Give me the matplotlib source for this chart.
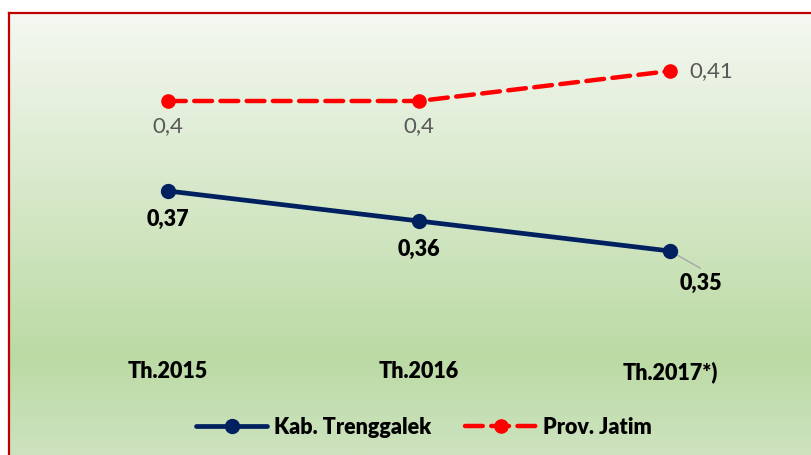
import matplotlib
matplotlib.use("Agg")
import matplotlib.pyplot as plt
import numpy as np
from matplotlib.colors import LinearSegmentedColormap
from matplotlib.lines import Line2D

categories = ["Th.2015", "Th.2016", "Th.2017*)"]
kab_values = [0.37, 0.36, 0.35]
jatim_values = [0.40, 0.40, 0.41]
kab_labels = ["0,37", "0,36", "0,35"]
jatim_labels = ["0,4", "0,4", "0,41"]

plt.rcParams["font.family"] = ["Lato", "DejaVu Sans"]
BOLD = "heavy"

W, H = 811, 455
fig = plt.figure(figsize=(W / 100, H / 100), dpi=100)

# gradient background inside the red frame
bg = fig.add_axes([8 / W, 0, 1 - 8 / W, 1 - 12 / H])
cmap = LinearSegmentedColormap.from_list(
    "bg", [(0, "#f5f8f2"), (0.78, "#bbdaa4"), (1, "#cde3bf")])
grad = np.linspace(0, 1, 256).reshape(-1, 1)
bg.imshow(grad, aspect="auto", cmap=cmap, extent=[0, 1, 0, 1], origin="upper")
bg.set_xlim(0, 1)
bg.set_ylim(0, 1)
bg.axis("off")
fig.add_artist(Line2D([8.5 / W, 8.5 / W], [0, 1 - 12.5 / H], color="#c00000", lw=1.6))
fig.add_artist(Line2D([8.5 / W, 1], [1 - 12.5 / H, 1 - 12.5 / H], color="#c00000", lw=1.6))

ax = fig.add_axes([42.5 / W, 1 - 350 / H, 753 / W, 330 / H])
ax.patch.set_alpha(0)
x = np.arange(len(categories))

ax.plot(x, kab_values, color="#002060", lw=3.4, marker="o", ms=10,
        solid_capstyle="round", label="Kab. Trenggalek", zorder=3)
ax.plot(x, jatim_values, color="#ff0000", lw=3.2, ls=(0, (4, 1.9)),
        marker="o", ms=9.5, dash_capstyle="round", label="Prov. Jatim", zorder=3)

ax.set_xlim(-0.5, 2.5)
ax.set_ylim(0.317, 0.427)
ax.axis("off")

# labels for Prov. Jatim
for i, (v, t) in enumerate(zip(jatim_values, jatim_labels)):
    if i < 2:
        ax.annotate(t, (i, v), xytext=(0, -11), textcoords="offset points",
                    ha="center", va="top", fontsize=16, color="#595959")
    else:
        ax.annotate(t, (i, v), xytext=(14, 0), textcoords="offset points",
                    ha="left", va="center", fontsize=16, color="#595959")

# labels for Kab. Trenggalek
for i, (v, t) in enumerate(zip(kab_values, kab_labels)):
    if i < 2:
        ax.annotate(t, (i, v), xytext=(0, -13), textcoords="offset points",
                    ha="center", va="top", fontsize=15.5, fontweight=BOLD,
                    color="black")
    else:
        ax.plot([i, i + 0.12], [v, v - 0.0057], color="#a6a6a6", lw=1, zorder=2)
        ax.annotate(t, (i, v), xytext=(22, -16), textcoords="offset points",
                    ha="center", va="top", fontsize=15.5, fontweight=BOLD,
                    color="black")

for i, c in enumerate(categories):
    ax.text(i, 0.4 - (372 - 101) / 3000, c, ha="center", va="center",
            fontsize=15.5, fontweight=BOLD)

leg = fig.legend(loc="center", bbox_to_anchor=(424 / W, 1 - 427 / H), ncol=2,
                 frameon=False, handlelength=3.3, handletextpad=0.3,
                 columnspacing=1.6, prop={"weight": BOLD, "size": 15.5})

fig.savefig("out.png", dpi=100)
plt.close(fig)
